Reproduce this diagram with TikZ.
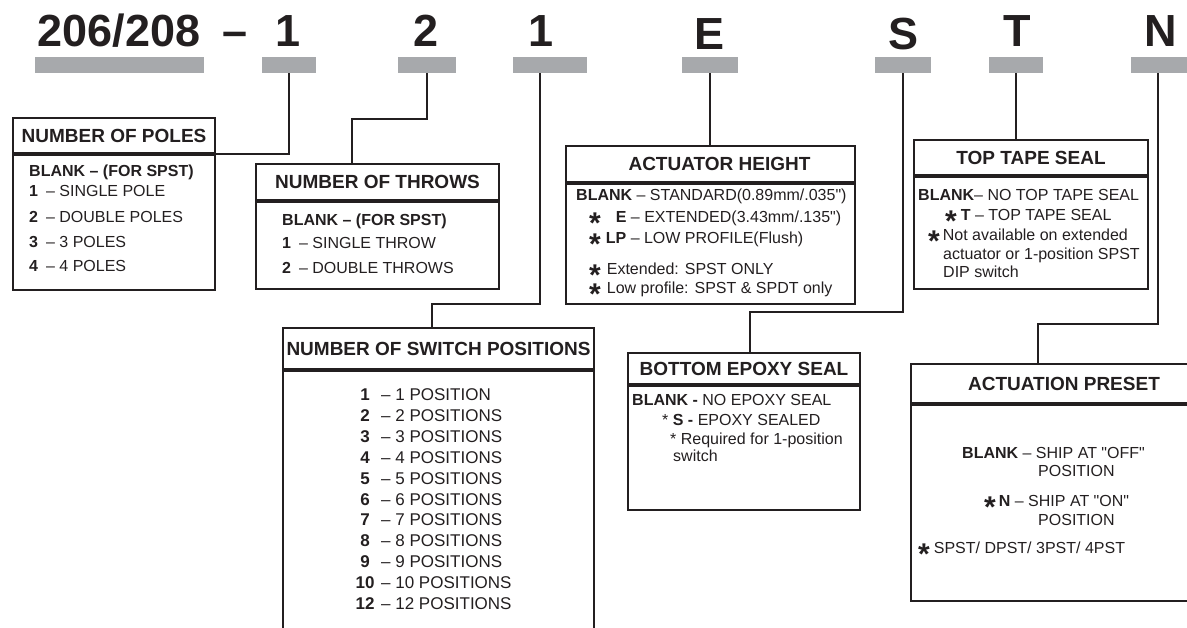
\documentclass[tikz,border=0pt]{standalone}
\usepackage{fontspec}
\setmainfont{Liberation Sans}
\newfontfamily\quotefont{Liberation Sans}[Ligatures=TeXOff]
\usetikzlibrary{positioning}

\definecolor{bargray}{HTML}{A7A9AC}
\definecolor{ink}{HTML}{231F20}

% big centred asterisk used in the option lists
\newcommand\bigast{\smash{\raisebox{-11pt}{\fontsize{30}{30}\selectfont\bfseries *}}}
% straight double quote
\newcommand\dq{{\quotefont"}}

\tikzset{
  code/.style={anchor=base, inner sep=0pt, text=ink, font=\fontsize{45}{45}\selectfont\bfseries},
  bar/.style={fill=bargray, anchor=north, inner sep=0pt, minimum height=16pt},
  hdr/.style={draw=ink, line width=2pt, anchor=north west, inner sep=0pt, text=ink,
    font=\fontsize{19}{22}\selectfont\bfseries},
  bodybox/.style={draw=ink, line width=2pt, anchor=north west, inner sep=0pt},
  txt/.style={anchor=base west, inner sep=0pt, text=ink, font=\fontsize{16}{19}\selectfont},
  link/.style={draw=ink, line width=2pt},
}

\begin{document}
\begin{tikzpicture}[x=1pt, y=1pt]
  \useasboundingbox (0,0) rectangle (1187,-628);

  % Part number characters
  \node[code] (cSeries) at (119,-47) {206/208};
  \node[code] (cDash) at (235,-47) {--};
  \node[code] (cPoles) at (288,-47) {1};
  \node[code] (cThrows) at (426,-47) {2};
  \node[code] (cPos) at (541,-47) {1};
  \node[code] (cAct) at (710,-50) {E};
  \node[code] (cEpoxy) at (903,-50) {S};
  \node[code] (cTape) at (1017,-47) {T};
  \node[code] (cPreset) at (1161,-47) {N};

  % Grey bars
  \node[bar, minimum width=169pt] (bSeries) at (119.5,-57) {};
  \node[bar, minimum width=54pt] (bPoles) at (289,-57) {};
  \node[bar, minimum width=58pt] (bThrows) at (427,-57) {};
  \node[bar, minimum width=74pt] (bPos) at (550,-57) {};
  \node[bar, minimum width=56pt] (bAct) at (710,-57) {};
  \node[bar, minimum width=56pt] (bEpoxy) at (903,-57) {};
  \node[bar, minimum width=54pt] (bTape) at (1016,-57) {};
  \node[bar, minimum width=58pt] (bPreset) at (1160,-57) {};

  % Number of poles
  \node[hdr, minimum width=202pt, minimum height=35pt] (polesH) at (12,-117) {NUMBER OF POLES};
  \node[bodybox, minimum width=202pt, minimum height=135pt] (polesB) at (polesH.south west) {};
  \node[txt] (poles0) at (29,-177) {\textbf{BLANK -- (FOR SPST)}};
  \node[txt] (poles1) at (29,-197) {\textbf{1}\hspace{8pt}-- SINGLE POLE};
  \node[txt] (poles2) at (29,-223) {\textbf{2}\hspace{8pt}-- DOUBLE POLES};
  \node[txt] (poles3) at (29,-248) {\textbf{3}\hspace{8pt}-- 3 POLES};
  \node[txt] (poles4) at (29,-272) {\textbf{4}\hspace{8pt}-- 4 POLES};

  % Number of throws
  \node[hdr, minimum width=243pt, minimum height=36pt] (throwsH) at (255,-163) {NUMBER OF THROWS};
  \node[bodybox, minimum width=243pt, minimum height=87pt] (throwsB) at (throwsH.south west) {};
  \node[txt] (throws0) at (282,-226) {\textbf{BLANK -- (FOR SPST)}};
  \node[txt] (throws1) at (282,-249) {\textbf{1}\hspace{8pt}-- SINGLE THROW};
  \node[txt] (throws2) at (282,-274) {\textbf{2}\hspace{8pt}-- DOUBLE THROWS};

  % Number of switch positions
  \node[hdr, minimum width=311pt, minimum height=41pt] (posH) at (282,-327) {NUMBER OF SWITCH POSITIONS};
  \node[bodybox, minimum width=311pt, minimum height=258pt] (posB) at (posH.south west) {};
  \foreach \n/\t [count=\i from 0] in {1/1 POSITION, 2/2 POSITIONS, 3/3 POSITIONS,
      4/4 POSITIONS, 5/5 POSITIONS, 6/6 POSITIONS, 7/7 POSITIONS, 8/8 POSITIONS,
      9/9 POSITIONS, 10/10 POSITIONS, 12/12 POSITIONS} {
    \node[txt, anchor=base, font=\fontsize{17}{20}\selectfont\bfseries] (posN\i) at (365,-401-20.8*\i) {\n};
    \node[txt, font=\fontsize{17}{20}\selectfont] (posT\i) at (381,-401-20.8*\i) {-- \t};
  }

  % Actuator height
  \node[hdr, minimum width=289pt, minimum height=36pt] (actH) at (565,-145) {\hspace*{18pt}ACTUATOR HEIGHT};
  \node[bodybox, minimum width=289pt, minimum height=120pt] (actB) at (actH.south west) {};
  \node[txt] (act0) at (576,-201) {\textbf{BLANK} -- STANDARD(0.89mm/.035\dq)};
  \node[txt] (act1) at (589,-223) {\bigast\hspace{15pt}\textbf{E} -- EXTENDED(3.43mm/.135\dq)};
  \node[txt] (act2) at (589,-244) {\bigast\hspace{5pt}\textbf{LP} -- LOW PROFILE(Flush)};
  \node[txt] (act3) at (589,-275) {\bigast\hspace{6pt}Extended: SPST ONLY};
  \node[txt] (act4) at (589,-294) {\bigast\hspace{6pt}Low profile: SPST \& SPDT only};

  % Bottom epoxy seal
  \node[hdr, minimum width=232pt, minimum height=31pt] (epoxyH) at (627,-352) {BOTTOM EPOXY SEAL};
  \node[bodybox, minimum width=232pt, minimum height=124pt] (epoxyB) at (epoxyH.south west) {};
  \node[txt] (epoxy0) at (632,-406) {\textbf{BLANK -} NO EPOXY SEAL};
  \node[txt] (epoxy1) at (662,-425) {* \textbf{S -} EPOXY SEALED};
  \node[txt] (epoxy2) at (670,-444) {* Required for 1-position};
  \node[txt] (epoxy3) at (673,-461) {switch};

  % Top tape seal
  \node[hdr, minimum width=234pt, minimum height=35pt] (tapeH) at (913,-139) {TOP TAPE SEAL};
  \node[bodybox, minimum width=234pt, minimum height=112pt] (tapeB) at (tapeH.south west) {};
  \node[txt] (tape0) at (918,-201) {\textbf{BLANK}-- NO TOP TAPE SEAL};
  \node[txt] (tape1) at (945,-221) {\bigast\hspace{4pt}\textbf{T} -- TOP TAPE SEAL};
  \node[txt] (tape2) at (928,-241) {\bigast\hspace{3pt}Not available on extended};
  \node[txt] (tape3) at (943,-260) {actuator or 1-position SPST};
  \node[txt] (tape4) at (943,-278) {DIP switch};

  % Actuation preset
  \node[hdr, minimum width=306pt, minimum height=39pt] (presetH) at (910,-363) {ACTUATION PRESET};
  \node[bodybox, minimum width=306pt, minimum height=196pt] (presetB) at (presetH.south west) {};
  \node[txt] (preset0) at (962,-458) {\textbf{BLANK} -- SHIP AT \dq OFF\dq};
  \node[txt] (preset1) at (1038,-476) {POSITION};
  \node[txt] (preset2) at (984,-506) {\bigast\hspace{3pt}\textbf{N} -- SHIP AT \dq ON\dq};
  \node[txt] (preset3) at (1038,-525) {POSITION};
  \node[txt] (preset4) at (918,-553) {\bigast\hspace{4pt}SPST/ DPST/ 3PST/ 4PST};

  % Leader lines from the bars to the boxes
  \coordinate (kThrows) at (352,-119);
  \coordinate (kPos) at (432,-304);
  \coordinate (kEpoxy) at (750,-312);
  \coordinate (kPreset) at (1038,-324);
  \draw[link] (bPoles.south) |- (polesH.south east);
  \draw[link] (bThrows.south) |- (kThrows) -- (kThrows |- throwsH.north);
  \draw[link] ([xshift=-10pt]bPos.south) |- (kPos) -- (kPos |- posH.north);
  \draw[link] (bAct.south) -- (bAct.south |- actH.north);
  \draw[link] (bEpoxy.south) |- (kEpoxy) -- (kEpoxy |- epoxyH.north);
  \draw[link] (bTape.south) -- (bTape.south |- tapeH.north);
  \draw[link] ([xshift=-2pt]bPreset.south) |- (kPreset) -- (kPreset |- presetH.north);
\end{tikzpicture}
\end{document}
